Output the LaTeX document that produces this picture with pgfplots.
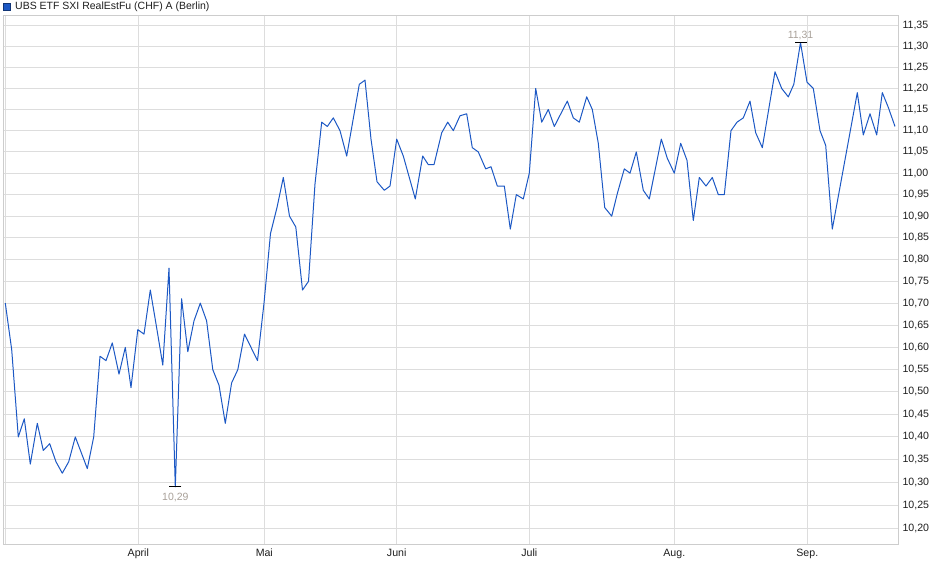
\documentclass[border=0pt]{standalone}
\usepackage{fontspec}
\setmainfont{Liberation Sans}
\usepackage{pgfplots}
\pgfplotsset{compat=1.18}
\definecolor{lineblue}{RGB}{28,88,196}
\definecolor{gridgray}{RGB}{221,221,221}
\definecolor{framegray}{RGB}{205,205,205}
\definecolor{lblgray}{RGB}{168,160,152}
\definecolor{txt}{RGB}{30,30,30}
\begin{document}
\begin{tikzpicture}[x=1pt,y=1pt]
\useasboundingbox (0,0) rectangle (940,579);
\begin{axis}[
  at={(3pt,34pt)}, anchor=south west,
  width=895pt, height=529pt, scale only axis,
  xmin=3, xmax=898,
  ymode=log, ymin=10.1638, ymax=11.3742,
  axis line style={draw=framegray, line width=1pt},
  grid=major, grid style={draw=gridgray, line width=1pt},
  major tick length=0pt,
  xtick={5.3,138.3,264.3,396.7,529.3,674.3,807.3},
  xticklabels={,April,Mai,Juni,Juli,Aug.,Sep.},
  ytick={10.20,10.25,10.30,10.35,10.40,10.45,10.50,10.55,10.60,10.65,10.70,10.75,10.80,10.85,10.90,10.95,11.00,11.05,11.10,11.15,11.20,11.25,11.30,11.35},
  yticklabels={{10,20},{10,25},{10,30},{10,35},{10,40},{10,45},{10,50},{10,55},{10,60},{10,65},{10,70},{10,75},{10,80},{10,85},{10,90},{10,95},{11,00},{11,05},{11,10},{11,15},{11,20},{11,25},{11,30},{11,35}},
  yticklabel pos=right,
  yticklabel style={anchor=west, xshift=1pt, font=\fontsize{10.6}{12}\selectfont, text=txt},
  xticklabel style={anchor=north, yshift=-0.5pt, font=\fontsize{10.6}{12}\selectfont, text=txt},
  /pgf/number format/assume math mode=true,
]
\addplot[lineblue, line width=1pt, line join=round] coordinates {
(5.3,10.70) (11.7,10.595) (18.3,10.40) (24.3,10.44) (30.3,10.34) (37.3,10.43)
(43.3,10.37) (49.7,10.385) (56,10.345) (62.3,10.32) (68.7,10.345) (75.3,10.40)
(81.3,10.365) (87.3,10.33) (93.7,10.40) (100,10.58) (106,10.57) (112.3,10.61)
(119,10.54) (125.3,10.60) (131,10.51) (137.8,10.64) (144,10.63) (150.3,10.73)
(156.6,10.645) (162.8,10.56) (169,10.78) (175.3,10.29) (181.6,10.71) (187.8,10.59)
(194,10.66) (200.3,10.70) (206.6,10.66) (212.8,10.55) (219,10.515) (225.3,10.43)
(231.6,10.52) (237.8,10.55) (244.5,10.63) (251,10.60) (257.5,10.57) (264,10.70)
(270.5,10.86) (277,10.92) (283.3,10.99) (289.5,10.90) (295.8,10.875) (302.5,10.73)
(308.5,10.75) (315,10.975) (321.7,11.12) (327.3,11.11) (333.3,11.13) (340,11.10)
(346.7,11.04) (359.3,11.21) (365,11.22) (371,11.08) (377,10.98) (384.3,10.96)
(390,10.97) (396.7,11.08) (403.3,11.04) (415.3,10.94) (422.7,11.04) (428.3,11.02)
(434,11.02) (441.7,11.095) (447.7,11.12) (453.3,11.10) (460,11.135) (466.7,11.14)
(472.3,11.06) (478.3,11.05) (485.7,11.01) (491,11.015) (497.3,10.97) (504.3,10.97)
(510.3,10.87) (516.3,10.95) (523.3,10.94) (529.3,11.00) (535.7,11.20) (541.7,11.12)
(548.3,11.15) (554.3,11.11) (567.3,11.17) (573.3,11.13) (579.3,11.12) (586.7,11.18)
(592.3,11.15) (598.3,11.07) (604.7,10.92) (611.7,10.90) (617.6,10.955) (624.3,11.01)
(630,11.00) (636.3,11.05) (643.3,10.96) (649.3,10.94) (661.3,11.08) (667.3,11.035)
(674.3,11.00) (680.7,11.07) (687,11.03) (693.3,10.89) (699.3,10.99) (706,10.97)
(712.3,10.99) (718.3,10.95) (724.3,10.95) (731,11.10) (737,11.12) (743.3,11.13)
(750,11.17) (755.7,11.095) (762.3,11.06) (775,11.24) (781.7,11.20) (788.3,11.18)
(793.8,11.21) (800.5,11.31) (807,11.215) (813.3,11.20) (820,11.10) (825.7,11.065)
(832.3,10.87) (857.3,11.19) (863.3,11.09) (870,11.14) (876.7,11.09) (882.3,11.19)
(888.3,11.155) (895,11.11)
};
\addplot[black, line width=1pt, only marks, mark=-, mark size=6pt,
  nodes near coords={10,29},
  every node near coord/.style={anchor=north, yshift=-2.5pt, text=lblgray, font=\fontsize{10.5}{12}\selectfont}]
  coordinates {(175.3,10.29)};
\addplot[black, line width=1pt, only marks, mark=-, mark size=6pt,
  nodes near coords={11,31},
  every node near coord/.style={anchor=south, yshift=-1pt, text=lblgray, font=\fontsize{10.5}{12}\selectfont}]
  coordinates {(800.5,11.31)};
\end{axis}
\fill[lineblue, draw=lineblue!60!black, line width=0.8pt] (3.5,569) rectangle (10.5,576);
\node[anchor=base west, inner sep=0pt, text=txt, font=\fontsize{10.5}{12}\selectfont] at (15,569) {UBS ETF SXI RealEstFu (CHF) A (Berlin)};
\end{tikzpicture}
\end{document}
